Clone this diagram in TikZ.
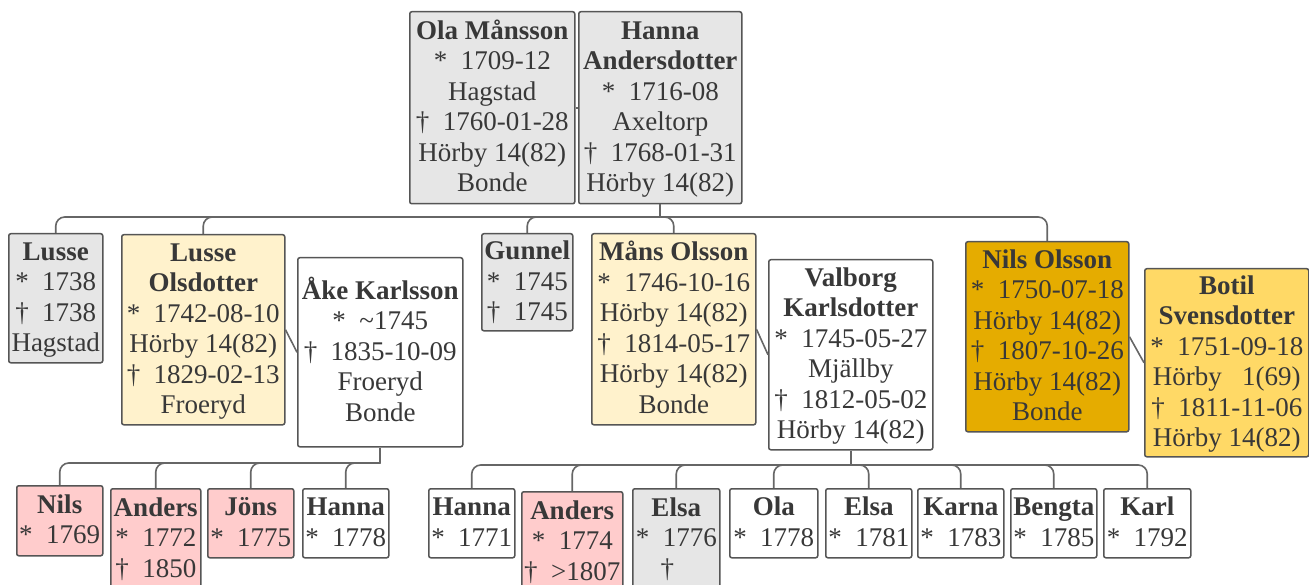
\documentclass[tikz,border=0pt]{standalone}
\usepackage{fontspec}
\setmainfont{Liberation Serif}
\definecolor{bordc}{HTML}{555555}
\definecolor{connc}{HTML}{666666}
\definecolor{txtc}{HTML}{383838}
\definecolor{grayc}{HTML}{E6E6E6}
\definecolor{lyelc}{HTML}{FFF2CC}
\definecolor{pinkc}{HTML}{FFCCCC}
\definecolor{goldc}{HTML}{E5AC00}
\definecolor{yelc}{HTML}{FFD966}
\newcommand{\tstr}{\rule{0pt}{23pt}}
\newcommand{\bstr}{\rule[-7.5pt]{0pt}{7.5pt}}
\tikzset{
  person/.style={draw=bordc, line width=1.5pt, rounded corners=2pt, inner sep=0pt,
    align=center, anchor=north west, text=txtc, font=\fontsize{27}{30.5}\selectfont},
  grbox/.style={person, fill=grayc},
  lybox/.style={person, fill=lyelc},
  pkbox/.style={person, fill=pinkc},
  gdbox/.style={person, fill=goldc},
  ylbox/.style={person, fill=yelc},
  whbox/.style={person, fill=white},
  conn/.style={draw=connc, line width=1.6pt, rounded corners=9pt},
  couple/.style={draw=connc, line width=1.6pt},
}
\begin{document}
\begin{tikzpicture}[x=1pt,y=-1pt]
\useasboundingbox (0,0) rectangle (1309,585);
% generation 1
\node[grbox, minimum width=165pt, minimum height=192pt] (ola) at (409,11)
  {\tstr\textbf{Ola Månsson}\\*\ \ 1709-12\\Hagstad\\†\ \ 1760-01-28\\Hörby 14(82)\\Bonde\bstr};
\node[grbox, minimum width=163pt, minimum height=192pt] (hanna) at (578,11)
  {\tstr\textbf{Hanna}\\\textbf{Andersdotter}\\*\ \ 1716-08\\Axeltorp\\†\ \ 1768-01-31\\Hörby 14(82)\bstr};
% generation 2
\node[grbox, minimum width=94pt, minimum height=129pt] (lusse) at (8,233)
  {\tstr\textbf{Lusse}\\*\ \ 1738\\†\ \ 1738\\Hagstad\bstr};
\node[lybox, minimum width=163pt, minimum height=190pt] (lo) at (121,234)
  {\tstr\textbf{Lusse}\\\textbf{Olsdotter}\\*\ \ 1742-08-10\\Hörby 14(82)\\†\ \ 1829-02-13\\Froeryd\bstr};
\node[whbox, minimum width=165pt, minimum height=189pt] (ake) at (297,257)
  {\tstr\textbf{Åke Karlsson}\\*\ \ \textasciitilde1745\\†\ \ 1835-10-09\\Froeryd\\Bonde\bstr};
\node[grbox, minimum width=91pt, minimum height=97pt] (gunnel) at (481,233)
  {\tstr\textbf{Gunnel}\\*\ \ 1745\\†\ \ 1745\bstr};
\node[lybox, minimum width=164pt, minimum height=191pt] (mans) at (591,233)
  {\tstr\textbf{Måns Olsson}\\*\ \ 1746-10-16\\Hörby 14(82)\\†\ \ 1814-05-17\\Hörby 14(82)\\Bonde\bstr};
\node[whbox, minimum width=164pt, minimum height=190pt] (valborg) at (768,259)
  {\tstr\textbf{Valborg}\\\textbf{Karlsdotter}\\*\ \ 1745-05-27\\Mjällby\\†\ \ 1812-05-02\\Hörby 14(82)\bstr};
\node[gdbox, minimum width=163pt, minimum height=190pt] (nilso) at (965,241)
  {\tstr\textbf{Nils Olsson}\\*\ \ 1750-07-18\\Hörby 14(82)\\†\ \ 1807-10-26\\Hörby 14(82)\\Bonde\bstr};
\node[ylbox, minimum width=164pt, minimum height=188pt] (botil) at (1144,268)
  {\tstr\textbf{Botil}\\\textbf{Svensdotter}\\*\ \ 1751-09-18\\Hörby \hphantom{1}1(69)\\†\ \ 1811-11-06\\Hörby 14(82)\bstr};
% generation 3 (Lusse Olsdotter + Åke Karlsson)
\node[pkbox, minimum width=86pt, minimum height=70pt] (k1) at (16,485)
  {\tstr\textbf{Nils}\\*\ \ 1769\bstr};
\node[pkbox, minimum width=90pt, minimum height=100pt] (k2) at (110,488)
  {\tstr\textbf{Anders}\\*\ \ 1772\\†\ \ 1850\bstr};
\node[pkbox, minimum width=86pt, minimum height=69pt] (k3) at (207,488)
  {\tstr\textbf{Jöns}\\*\ \ 1775\bstr};
\node[whbox, minimum width=86pt, minimum height=69pt] (k4) at (302,488)
  {\tstr\textbf{Hanna}\\*\ \ 1778\bstr};
% generation 3 (Måns Olsson + Valborg Karlsdotter)
\node[whbox, minimum width=86pt, minimum height=69pt] (v1) at (428,488)
  {\tstr\textbf{Hanna}\\*\ \ 1771\bstr};
\node[pkbox, minimum width=101pt, minimum height=100pt] (v2) at (521,491)
  {\tstr\textbf{Anders}\\*\ \ 1774\\†\ \ >1807\bstr};
\node[grbox, minimum width=87pt, minimum height=100pt] (v3) at (632,488)
  {\tstr\textbf{Elsa}\\*\ \ 1776\\†\hspace*{18pt}\bstr};
\node[whbox, minimum width=88pt, minimum height=69pt] (v4) at (729,488)
  {\tstr\textbf{Ola}\\*\ \ 1778\bstr};
\node[whbox, minimum width=86pt, minimum height=69pt] (v5) at (825,488)
  {\tstr\textbf{Elsa}\\*\ \ 1781\bstr};
\node[whbox, minimum width=86pt, minimum height=69pt] (v6) at (917,488)
  {\tstr\textbf{Karna}\\*\ \ 1783\bstr};
\node[whbox, minimum width=86pt, minimum height=69pt] (v7) at (1010,488)
  {\tstr\textbf{Bengta}\\*\ \ 1785\bstr};
\node[whbox, minimum width=87pt, minimum height=69pt] (v8) at (1103,488)
  {\tstr\textbf{Karl}\\*\ \ 1792\bstr};
% couples
\draw[couple] (ola.east) -- (hanna.west);
\draw[couple] (lo.east) -- (ake.west);
\draw[couple] (mans.east) -- (valborg.west);
\draw[couple] (nilso.east) -- (botil.west);
% family 1
\coordinate (f1) at (hanna.south |- 0,217);
\draw[couple] (hanna.south) -- (f1);
\foreach \c in {lusse,lo,gunnel,mans,nilso}
  \draw[conn] (\c.north) |- (f1);
% family 2
\coordinate (f2) at (ake.south |- 0,463);
\draw[couple] (ake.south) -- (f2);
\foreach \c in {k1,k2,k3,k4}
  \draw[conn] (\c.north) |- (f2);
% family 3
\coordinate (f3) at (valborg.south |- 0,465);
\draw[couple] (valborg.south) -- (f3);
\foreach \c in {v1,v2,v3,v4,v5,v6,v7,v8}
  \draw[conn] (\c.north) |- (f3);
\end{tikzpicture}
\end{document}
